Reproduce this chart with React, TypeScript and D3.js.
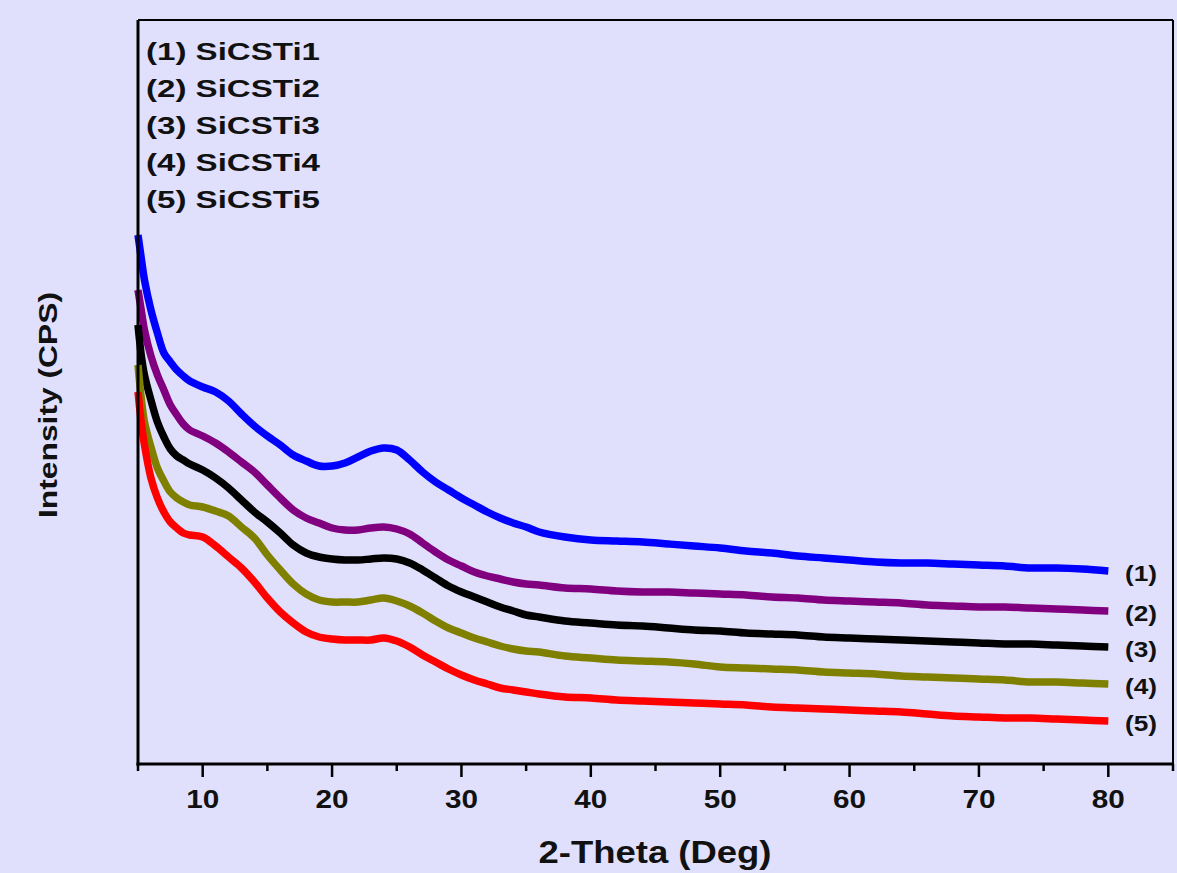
import React from "react";
import * as d3 from "d3";

const theta = [5, 5.25, 5.5, 6, 6.5, 7, 7.5, 8, 8.5, 9,
  10, 11, 12, 13, 14, 15, 16, 17, 18, 19, 20, 21, 22, 23, 24, 25, 26, 27, 28, 29, 30, 31, 32, 33, 34, 35, 36,
  38, 40, 42, 44, 46, 48, 50, 52, 54, 56, 58, 60, 62, 64, 66, 68, 70, 72, 74, 76, 78, 80];

const sicsti1 = [529, 506, 484, 454, 431, 411, 402, 394, 388, 383,
  377, 372, 363, 350, 338, 328, 319, 309, 303, 298, 298, 301, 307, 313, 316, 314, 304, 292, 282, 274, 266, 259, 252, 246, 241, 237, 232,
  227, 224, 223, 222, 220, 218, 216, 213, 211, 208, 206, 204, 202, 201, 201, 200, 199, 198, 196, 196, 195, 193];

const sicsti2 = [474, 454, 434, 408, 389, 374, 359, 349, 340, 334,
  328, 321, 312, 302, 292, 279, 266, 254, 246, 241, 236, 234, 234, 236, 237, 235, 230, 221, 212, 204, 198, 192, 188, 185, 182, 180, 179,
  176, 175, 173, 172, 172, 171, 170, 169, 167, 166, 164, 163, 162, 161, 159, 158, 157, 157, 156, 155, 154, 153];

const sicsti3 = [439, 409, 389, 364, 342, 327, 315, 308, 304, 300,
  294, 286, 276, 264, 252, 242, 231, 219, 211, 207, 205, 204, 204, 205, 206, 205, 201, 194, 186, 178, 172, 167, 162, 157, 153, 149, 147,
  143, 141, 139, 138, 136, 134, 133, 131, 130, 129, 127, 126, 125, 124, 123, 122, 121, 120, 120, 119, 118, 117];

const sicsti4 = [399, 366, 342, 317, 296, 283, 272, 266, 262, 259,
  257, 253, 248, 237, 226, 209, 194, 180, 170, 164, 162, 162, 162, 164, 166, 163, 158, 151, 143, 136, 131, 126, 122, 118, 115, 113, 112,
  108, 106, 104, 103, 102, 100, 97, 96, 95, 94, 92, 91, 90, 88, 87, 86, 85, 84, 82, 82, 81, 80];

const sicsti5 = [372, 342, 319, 286, 266, 252, 242, 236, 231, 229,
  227, 218, 207, 196, 182, 166, 152, 141, 132, 127, 125, 124, 124, 124, 126, 123, 117, 109, 102, 95, 89, 84, 80, 76, 74, 72, 70,
  67, 66, 64, 63, 62, 61, 60, 59, 57, 56, 55, 54, 53, 52, 50, 48, 47, 46, 46, 45, 44, 43];

const seriesNames = ["SiCSTi1", "SiCSTi2", "SiCSTi3", "SiCSTi4", "SiCSTi5"];
const seriesColors = ["#0000ff", "#800080", "#000000", "#808000", "#ff0000"];
const seriesValues = [sicsti1, sicsti2, sicsti3, sicsti4, sicsti5];
const endLabels = ["(1)", "(2)", "(3)", "(4)", "(5)"];

const majorTicks = [10, 20, 30, 40, 50, 60, 70, 80];
const minorTicks = [5, 15, 25, 35, 45, 55, 65, 75, 85];

const W = 1177;
const H = 873;
const left = 138;
const right = 1173;
const top = 20;
const bottom = 764;
const FONT = "'Liberation Sans', Arial, Helvetica, sans-serif";

export default function App() {
  const x = d3.scaleLinear().domain([5, 85]).range([left, right]);
  const y = d3.scaleLinear().domain([0, bottom - top]).range([bottom, top]);
  const line = d3
    .line<number>()
    .x((_, i) => x(theta[i]))
    .y((v) => y(v))
    .curve(d3.curveCatmullRom);

  return (
    <div style={{ position: "fixed", left: 0, top: 0, width: W, height: H, background: "#e0e0fc" }}>
      <svg width={W} height={H} style={{ display: "block" }} fontFamily={FONT}>
        <rect x={0} y={0} width={W} height={H} fill="#e0e0fc" />
        {seriesValues.map((vals, k) => (
          <path
            key={k}
            d={line(vals) || ""}
            fill="none"
            stroke={seriesColors[k]}
            strokeWidth={7.5}
            strokeLinejoin="round"
            strokeLinecap="butt"
          />
        ))}
        {/* frame */}
        <line x1={left} y1={top} x2={right} y2={top} stroke="#000" strokeWidth={2} />
        <line x1={right} y1={top} x2={right} y2={bottom} stroke="#000" strokeWidth={2} />
        <line x1={left} y1={top} x2={left} y2={bottom + 1.5} stroke="#000" strokeWidth={3} />
        <line x1={left - 1.5} y1={bottom} x2={right + 1} y2={bottom} stroke="#000" strokeWidth={3} />
        {majorTicks.map((t) => (
          <g key={"M" + t}>
            <line x1={x(t)} x2={x(t)} y1={bottom} y2={bottom + 13} stroke="#000" strokeWidth={2.5} />
            <text
              x={x(t)}
              y={808}
              textAnchor="middle"
              fontSize={25}
              fontWeight="bold"
              textLength={33}
              lengthAdjust="spacingAndGlyphs"
              fill="#111"
            >
              {t}
            </text>
          </g>
        ))}
        {minorTicks.map((t) => (
          <line key={"m" + t} x1={x(t)} x2={x(t)} y1={bottom} y2={bottom + 7} stroke="#000" strokeWidth={2.5} />
        ))}
        <text
          x={655}
          y={863}
          textAnchor="middle"
          fontSize={31}
          fontWeight="bold"
          textLength={233}
          lengthAdjust="spacingAndGlyphs"
          fill="#111"
        >
          2-Theta (Deg)
        </text>
        <text
          transform="translate(57,405) rotate(-90)"
          textAnchor="middle"
          fontSize={26}
          fontWeight="bold"
          textLength={226}
          lengthAdjust="spacingAndGlyphs"
          fill="#111"
        >
          Intensity (CPS)
        </text>
        {seriesNames.map((n, k) => (
          <text
            key={n}
            x={146}
            y={60 + k * 37}
            fontSize={24}
            fontWeight="bold"
            textLength={174}
            lengthAdjust="spacingAndGlyphs"
            fill="#111"
          >
            {`(${k + 1}) ${n}`}
          </text>
        ))}
        {endLabels.map((l, k) => (
          <text
            key={l}
            x={1141}
            y={y(seriesValues[k][seriesValues[k].length - 1]) + 10}
            textAnchor="middle"
            fontSize={22}
            fontWeight="bold"
            textLength={32}
            lengthAdjust="spacingAndGlyphs"
            fill="#111"
          >
            {l}
          </text>
        ))}
      </svg>
    </div>
  );
}
